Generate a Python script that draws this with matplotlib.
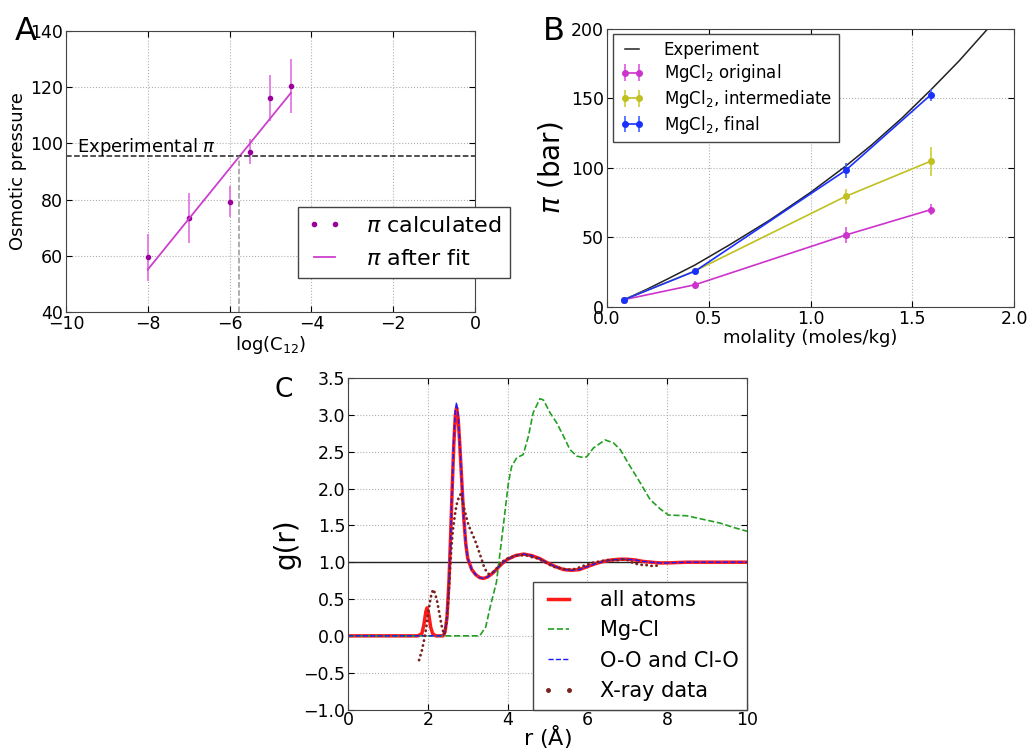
import matplotlib
matplotlib.use("Agg")
import matplotlib.pyplot as plt
from matplotlib.lines import Line2D

# panel A: osmotic pressure vs log(C12)
logc = [-8, -7, -6, -5.5, -5, -4.5]
pi_calc = [59.4, 73.4, 79.3, 97.1, 116.2, 120.5]
pi_err = [8.5, 9.0, 5.5, 4.3, 8.3, 9.6]
fit_x = [-8.0, -4.5]
fit_y = [55.1, 118.0]
pi_exp = 95.5
logc_exp = -5.76

# panel B: pi vs molality
molality = [0.085, 0.433, 1.172, 1.591]
orig = [5.3, 16.0, 51.7, 70.0]
orig_err = [2.0, 3.0, 5.5, 4.2]
inter = [5.3, 26.0, 79.5, 104.9]
inter_err = [2.0, 2.0, 5.6, 10.4]
final = [5.3, 25.8, 98.2, 152.6]
final_err = [1.5, 2.0, 5.4, 4.5]
exp_m = [0.085, 0.2, 0.3, 0.43, 0.6, 0.8, 1.0, 1.17, 1.3, 1.45, 1.59,
         1.73, 1.87]
exp_p = [5.3, 13.0, 20.3, 30.0, 44.5, 62.5, 82.4, 101.0, 116.5, 136.0,
         156.0, 177.0, 200.0]

# panel C: radial distribution functions
r_all = [0, 1.75, 1.85, 1.9, 1.95, 1.98, 2.02, 2.07, 2.12, 2.2, 2.38, 2.43,
         2.48, 2.53, 2.57, 2.61, 2.65, 2.69, 2.72, 2.76, 2.8, 2.85, 2.9, 2.95,
         3.0, 3.1, 3.2, 3.3, 3.4, 3.5, 3.6, 3.7, 3.8, 3.9, 4.0, 4.2, 4.4, 4.6,
         4.8, 5.0, 5.2, 5.4, 5.6, 5.8, 6.0, 6.2, 6.4, 6.6, 6.8, 7.0, 7.2, 7.4,
         7.6, 7.8, 8.0, 8.5, 9.0, 10.0]
g_all = [0, 0, 0.03, 0.15, 0.33, 0.38, 0.3, 0.12, 0.03, 0, 0, 0.05,
         0.25, 0.75, 1.35, 2.0, 2.6, 3.0, 3.1, 2.95, 2.6, 2.1, 1.6, 1.25,
         1.05, 0.9, 0.83, 0.79, 0.78, 0.8, 0.84, 0.89, 0.95, 1.0, 1.04, 1.09,
         1.11, 1.09, 1.05, 0.99, 0.94, 0.9, 0.89, 0.9, 0.94, 0.98, 1.01, 1.03,
         1.04, 1.04, 1.03, 1.01, 1.0, 0.99, 0.99, 1.0, 1.0, 1.0]
r_oo = [0, 2.38, 2.43, 2.48, 2.53, 2.57, 2.61, 2.65, 2.69, 2.72, 2.76, 2.8,
        2.85, 2.9, 2.95, 3.0, 3.1, 3.2, 3.3, 3.4, 3.5, 3.6, 3.7, 3.8, 3.9,
        4.0, 4.2, 4.4, 4.6, 4.8, 5.0, 5.2, 5.4, 5.6, 5.8, 6.0, 6.2, 6.4, 6.6,
        6.8, 7.0, 7.2, 7.4, 7.6, 7.8, 8.0, 8.5, 9.0, 10.0]
g_oo = [0, 0, 0.05, 0.25, 0.75, 1.35, 2.0, 2.65, 3.08, 3.17, 3.0, 2.62,
        2.1, 1.6, 1.25, 1.05, 0.9, 0.83, 0.79, 0.78, 0.8, 0.84, 0.89, 0.95,
        1.0, 1.04, 1.09, 1.11, 1.09, 1.05, 0.99, 0.94, 0.9, 0.89, 0.9, 0.94,
        0.98, 1.01, 1.03, 1.04, 1.04, 1.03, 1.01, 1.0, 0.99, 0.99, 1.0, 1.0,
        1.0]
r_mgcl = [0, 3.3, 3.45, 3.57, 3.72, 3.89, 4.02, 4.1, 4.23, 4.39, 4.52,
          4.64, 4.81, 4.9, 5.06, 5.23, 5.4, 5.56, 5.73, 5.9, 5.98, 6.15,
          6.44, 6.65, 6.82, 7.07, 7.32, 7.57, 7.83, 8.03, 8.49, 8.91, 9.33,
          9.67, 10.0]
g_mgcl = [0, 0, 0.12, 0.41, 0.73, 1.49, 2.08, 2.3, 2.42, 2.46, 2.71,
          3.03, 3.22, 3.2, 3.03, 2.89, 2.71, 2.53, 2.44, 2.42, 2.43, 2.55,
          2.66, 2.62, 2.53, 2.3, 2.08, 1.85, 1.72, 1.64, 1.63, 1.58, 1.53,
          1.47, 1.42]
r_xray = [1.78, 1.85, 1.92, 1.97, 2.02, 2.07, 2.13, 2.18, 2.24, 2.3, 2.36,
          2.41, 2.46, 2.51, 2.55, 2.59, 2.63, 2.68, 2.72, 2.77, 2.82, 2.86,
          2.9, 2.96, 3.02, 3.1, 3.18, 3.26, 3.34, 3.4, 3.46, 3.52, 3.6, 3.7,
          3.8, 3.9, 4.0, 4.1, 4.2, 4.3, 4.4, 4.5, 4.6, 4.7, 4.8, 4.9, 5.0,
          5.1, 5.2, 5.3, 5.4, 5.5, 5.6, 5.7, 5.8, 5.9, 6.0, 6.1, 6.2, 6.3,
          6.4, 6.5, 6.6, 6.7, 6.8, 6.9, 7.0, 7.1, 7.2, 7.3, 7.4, 7.5, 7.6,
          7.7, 7.8]
g_xray = [-0.33, -0.2, -0.02, 0.15, 0.35, 0.52, 0.63, 0.58, 0.45, 0.27,
          0.1, 0.02, 0.15, 0.45, 0.85, 1.2, 1.45, 1.65, 1.78, 1.87, 1.92,
          1.85, 1.75, 1.62, 1.5, 1.4, 1.3, 1.18, 1.05, 0.95, 0.88, 0.84,
          0.85, 0.9, 0.96, 1.02, 1.05, 1.07, 1.09, 1.1, 1.09, 1.09, 1.07,
          1.06, 1.04, 1.01, 0.98, 0.95, 0.93, 0.92, 0.91, 0.9, 0.9, 0.91,
          0.93, 0.95, 0.97, 0.99, 1.0, 1.01, 1.02, 1.03, 1.03, 1.02, 1.03,
          1.04, 1.03, 1.0, 0.98, 0.97, 0.96, 0.96, 0.95, 0.95, 0.96]

plt.rcParams['font.family'] = ['DejaVu Sans']
plt.rcParams['xtick.direction'] = 'in'
plt.rcParams['ytick.direction'] = 'in'
plt.rcParams['xtick.top'] = True
plt.rcParams['ytick.right'] = True
plt.rcParams['axes.edgecolor'] = '#444444'

fig = plt.figure(figsize=(10.34, 7.52), dpi=100)
axA = fig.add_axes([0.0638, 0.5851, 0.3956, 0.3737])
axB = fig.add_axes([0.587, 0.5918, 0.3937, 0.3697])
axC = fig.add_axes([0.3366, 0.0565, 0.3859, 0.4408])

for ax in (axA, axB, axC):
    ax.grid(True, color='#b0b0b0', ls=':', lw=0.8)
    ax.set_axisbelow(True)
    ax.tick_params(labelsize=12.5, length=4, pad=2)

# ---- A
axA.errorbar(logc, pi_calc, yerr=pi_err, fmt='none', ecolor='#e070e0', lw=1.2)
pts, = axA.plot(logc, pi_calc, '.', color='#9b009b', ms=6)
fitl, = axA.plot(fit_x, fit_y, '-', color='#cc40cc', lw=1.3)
axA.axhline(pi_exp, color='#222222', ls='--', lw=1.1)
axA.plot([logc_exp, logc_exp], [40, pi_exp], ls='--', color='#999999', lw=1.1)
axA.text(-9.74, 96.8, r'Experimental $\pi$', fontsize=13)
axA.set_xlim(-10, 0)
axA.set_ylim(40, 140)
axA.set_xticks(range(-10, 1, 2))
axA.set_yticks(range(40, 141, 20))
axA.set_xlabel(r'log(C$_{12}$)', fontsize=13, labelpad=1)
axA.set_ylabel('Osmotic pressure', fontsize=13, labelpad=2)
axA.legend([pts, fitl], [r'$\pi$ calculated', r'$\pi$ after fit'],
           numpoints=2, fontsize=16, loc='lower right',
           bbox_to_anchor=(510 / 1034, 1 - 278 / 752),
           bbox_transform=fig.transFigure, borderaxespad=0,
           fancybox=False, framealpha=1, edgecolor='#444444',
           handlelength=1.55, handletextpad=1.1, labelspacing=0.6)
fig.text(15 / 1034, 1 - 40 / 752, 'A', fontsize=23)

# ---- B
expl, = axB.plot(exp_m, exp_p, '-', color='#222222', lw=1.1)
c1 = axB.errorbar(molality, orig, yerr=orig_err, fmt='-o', color='#cc33cc',
                  ecolor='#dd55dd', lw=1.2, ms=4, capsize=0)
c2 = axB.errorbar(molality, inter, yerr=inter_err, fmt='-o', color='#c0c020',
                  ecolor='#cccc33', lw=1.2, ms=4, capsize=0)
c3 = axB.errorbar(molality, final, yerr=final_err, fmt='-o', color='#1a30ff',
                  ecolor='#4060ff', lw=1.2, ms=4, capsize=0)
axB.set_xlim(0, 2)
axB.set_ylim(0, 200)
axB.set_xticks([0.0, 0.5, 1.0, 1.5, 2.0])
axB.set_yticks(range(0, 201, 50))
axB.set_xlabel('molality (moles/kg)', fontsize=13, labelpad=1)
axB.set_ylabel(r'$\pi$ (bar)', fontsize=20, labelpad=4)
axB.legend([expl, c1, c2, c3],
           ['Experiment', r'MgCl$_2$ original', r'MgCl$_2$, intermediate',
            r'MgCl$_2$, final'],
           numpoints=2, fontsize=12, loc='upper left',
           bbox_to_anchor=(613 / 1034, 1 - 34 / 752),
           bbox_transform=fig.transFigure, borderaxespad=0,
           fancybox=False, framealpha=1, edgecolor='#444444',
           handlelength=1.45, handletextpad=1.2, labelspacing=0.22)
fig.text(543 / 1034, 1 - 40 / 752, 'B', fontsize=23)

# ---- C
la, = axC.plot(r_all, g_all, '-', color='#ff1a1a', lw=2.5)
lm, = axC.plot(r_mgcl, g_mgcl, '--', color='#22a022', lw=1.2)
lo, = axC.plot(r_oo, g_oo, '--', color='#1a1aff', lw=1.0)
axC.plot(r_xray, g_xray, ls=(0, (0.1, 1.7)), color='#7a2020', lw=2.0,
         dash_capstyle='round')
axC.axhline(1.0, color='#222222', lw=1.0, zorder=1)
lx = Line2D([], [], ls='none', marker='.', color='#7a2020', ms=5)
axC.set_xlim(0, 10)
axC.set_ylim(-1, 3.5)
axC.set_xticks(range(0, 11, 2))
axC.set_yticks([-1.0, -0.5, 0.0, 0.5, 1.0, 1.5, 2.0, 2.5, 3.0, 3.5])
axC.tick_params(axis='x', pad=1)
axC.set_xlabel(r'r ($\mathrm{\AA}$)', fontsize=16, labelpad=-4)
axC.set_ylabel('g(r)', fontsize=20, labelpad=2)
axC.legend([la, lm, lo, lx],
           ['all atoms', 'Mg-Cl', 'O-O and Cl-O', 'X-ray data'],
           numpoints=2, fontsize=15, loc='lower right', borderaxespad=0,
           fancybox=False, framealpha=1, edgecolor='#444444',
           handlelength=1.6, handletextpad=1.2)
fig.text(275 / 1034, 1 - 397 / 752, 'C', fontsize=19)

fig.savefig('out.png', dpi=100)
